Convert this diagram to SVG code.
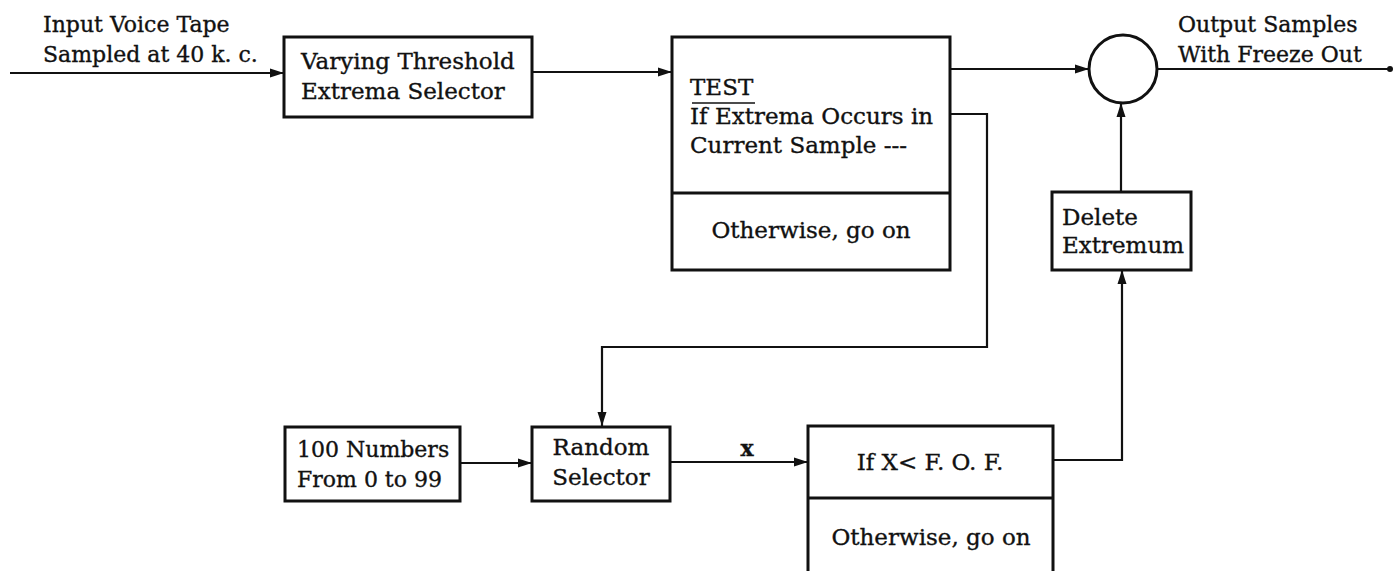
<svg xmlns="http://www.w3.org/2000/svg" width="1393" height="571" viewBox="0 0 1393 571">
<defs>
<style>
text{font-family:"DejaVu Serif","Liberation Serif",serif;fill:#111;stroke:#111;stroke-width:0.35;}
.lbl{font-size:22px;}
.bx{font-size:23px;}
.box{fill:#fff;stroke:#111;stroke-width:3;}
.ln{fill:none;stroke:#111;stroke-width:2.2;}
.mid{text-anchor:middle;}
</style>
<marker id="ah" markerUnits="userSpaceOnUse" markerWidth="15" markerHeight="10" refX="14" refY="5" orient="auto">
<path d="M0,0.5 L14,5 L0,9.5 z" fill="#111"/>
</marker>
</defs>
<rect width="1393" height="571" fill="#fff"/>
<g id="connectors">
<path class="ln" d="M10 73 H284" marker-end="url(#ah)"/>
<path class="ln" d="M532 72 H672" marker-end="url(#ah)"/>
<path class="ln" d="M950 69 H1089" marker-end="url(#ah)"/>
<path class="ln" d="M1157 69 H1390"/>
<circle cx="1390" cy="69" r="3" fill="#111"/>
<path class="ln" d="M950 114 H987 V347 H602 V426" marker-end="url(#ah)"/>
<path class="ln" d="M460 463 H532" marker-end="url(#ah)"/>
<path class="ln" d="M670 462 H808" marker-end="url(#ah)"/>
<text class="lbl" x="747" y="456" text-anchor="middle" font-weight="bold">x</text>
<path class="ln" d="M1053 460 H1122 V270" marker-end="url(#ah)"/>
<path class="ln" d="M1121 192 V103" marker-end="url(#ah)"/>
</g>
<g id="input-label">
<text class="lbl" x="43" y="32">Input Voice Tape</text>
<text class="lbl" x="43" y="62">Sampled at 40 k. c.</text>
</g>
<g id="output-label">
<text class="lbl" x="1178" y="32">Output Samples</text>
<text class="lbl" x="1178" y="62">With Freeze Out</text>
</g>
<g id="varying-threshold">
<rect class="box" x="284" y="37" width="248" height="80"/>
<text class="bx" x="301" y="69">Varying Threshold</text>
<text class="bx" x="301" y="99">Extrema Selector</text>
</g>
<g id="test">
<rect class="box" x="672" y="37" width="278" height="233"/>
<line x1="672" y1="193" x2="950" y2="193" stroke="#111" stroke-width="3"/>
<text class="bx" x="690" y="95">TEST</text>
<line x1="692" y1="103" x2="755" y2="103" stroke="#111" stroke-width="1.5"/>
<text class="bx" x="690" y="124">If Extrema Occurs in</text>
<text class="bx" x="690" y="153">Current Sample ---</text>
<text class="bx mid" x="811" y="238">Otherwise, go on</text>
</g>
<g id="sum">
<circle cx="1123" cy="69" r="34" fill="#fff" stroke="#111" stroke-width="3"/>
</g>
<g id="delete-extremum">
<rect class="box" x="1052" y="192" width="139" height="78"/>
<text class="bx" x="1062" y="225">Delete</text>
<text class="bx" x="1062" y="253">Extremum</text>
</g>
<g id="numbers">
<rect class="box" x="285" y="427" width="175" height="74"/>
<text class="lbl" x="297" y="457">100 Numbers</text>
<text class="lbl" x="297" y="487">From 0 to 99</text>
</g>
<g id="random-selector">
<rect class="box" x="532" y="427" width="138" height="74"/>
<text class="bx mid" x="601" y="455">Random</text>
<text class="bx mid" x="601" y="485">Selector</text>
</g>
<g id="fof-test">
<rect class="box" x="808" y="426" width="245" height="160"/>
<line x1="808" y1="498" x2="1053" y2="498" stroke="#111" stroke-width="3"/>
<text class="bx mid" x="930" y="470">If X&lt; F. O. F.</text>
<text class="bx mid" x="931" y="545">Otherwise, go on</text>
</g>
</svg>
